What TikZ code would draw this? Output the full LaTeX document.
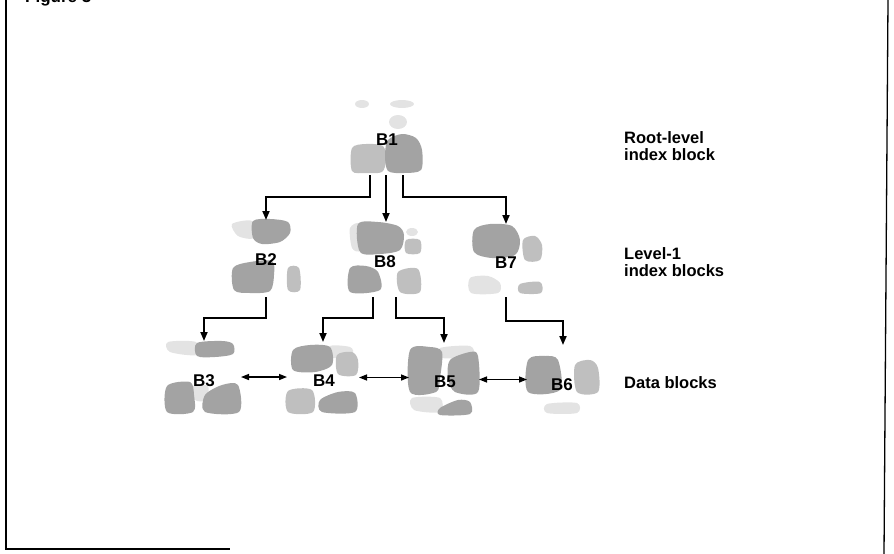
\documentclass[tikz,border=0pt]{standalone}
\usepackage{fontspec}
\setmainfont{Liberation Sans}
\usetikzlibrary{arrows.meta}

\begin{document}
\begin{tikzpicture}[x=1pt,y=-1pt,
  frame/.style={line width=1.3pt, black},
  dense/.style={fill=black!36},
  medium/.style={fill=black!25},
  haze/.style={fill=black!11},
  area/.style={inner sep=0pt, outer sep=0pt},
  lab/.style={inner sep=0pt, font=\bfseries\fontsize{17}{20}\selectfont},
  side/.style={inner sep=0pt, align=left, font=\bfseries\fontsize{16.5}{17.5}\selectfont},
  conn/.style={line width=1.8pt, -{Triangle[length=9pt,width=7pt]}},
  link/.style={line width=1.4pt, {Triangle[length=8pt,width=6pt]}-{Triangle[length=8pt,width=6pt]}}]

\useasboundingbox (0,0) rectangle (894,554);
\clip (0,0) rectangle (894,554);

% page frame and cut-off figure caption
\draw[frame] (6,0) -- (6,549) -- (230,549);
\draw[frame] (888,0) -- (884,554);
\node[inner sep=0pt, anchor=base west, font=\bfseries\fontsize{17}{20}\selectfont] (caption) at (25,2.5) {Figure 3};

% ---- halftone blobs of the blocks ----
% B1
\fill[haze] (362,104) ellipse (7 and 4);
\fill[haze] (402,104) ellipse (12 and 4);
\fill[haze] (398,122) ellipse (9 and 7);
\fill[medium] plot[smooth cycle] coordinates {(352,148) (366,144) (383,146) (386,160) (382,172) (366,173) (352,171)};
\fill[dense] plot[smooth cycle] coordinates {(388,140) (402,134) (416,138) (422,150) (421,170) (404,173) (388,171) (385,155)};
% B2
\fill[haze] plot[smooth cycle] coordinates {(232,224) (252,221) (254,238) (238,236)};
\fill[dense] plot[smooth cycle] coordinates {(253,221) (270,219) (288,222) (290,233) (280,242) (262,244) (253,238)};
\fill[dense] plot[smooth cycle] coordinates {(233,268) (250,262) (272,261) (274,275) (270,291) (250,293) (234,290)};
\fill[medium] plot[smooth cycle] coordinates {(288,268) (299,268) (300,290) (288,290)};
% B8
\fill[haze] plot[smooth cycle] coordinates {(350,228) (360,224) (360,250) (352,248)};
\fill[dense] plot[smooth cycle] coordinates {(358,224) (378,222) (398,226) (404,235) (400,250) (380,254) (360,252)};
\fill[haze] (412,232) ellipse (6 and 4);
\fill[medium] plot[smooth cycle] coordinates {(406,240) (420,240) (420,253) (406,253)};
\fill[dense] plot[smooth cycle] coordinates {(350,268) (366,266) (378,272) (380,290) (350,292)};
\fill[medium] plot[smooth cycle] coordinates {(398,272) (418,269) (420,292) (400,292)};
% B7
\fill[dense] plot[smooth cycle] coordinates {(474,230) (490,224) (512,226) (520,240) (515,255) (492,258) (474,252)};
\fill[medium] plot[smooth cycle] coordinates {(523,240) (535,236) (542,245) (540,260) (525,260)};
\fill[haze] plot[smooth cycle] coordinates {(470,278) (488,276) (500,283) (498,293) (471,293)};
\fill[medium] plot[smooth cycle] coordinates {(520,284) (540,282) (541,293) (520,293)};
% B3
\fill[haze] plot[smooth cycle] coordinates {(168,342) (196,342) (197,355) (170,352)};
\fill[dense] plot[smooth cycle] coordinates {(197,343) (222,341) (233,344) (233,354) (215,357) (197,356)};
\fill[haze] plot[smooth cycle] coordinates {(193,386) (208,386) (206,400) (195,400)};
\fill[dense] plot[smooth cycle] coordinates {(167,386) (190,382) (194,395) (193,412) (167,412)};
\fill[dense] plot[smooth cycle] coordinates {(205,395) (222,385) (238,385) (239,412) (205,412)};
% B4
\fill[haze] plot[smooth cycle] coordinates {(330,346) (350,347) (352,354) (332,358)};
\fill[dense] plot[smooth cycle] coordinates {(293,350) (310,345) (330,347) (332,365) (315,372) (293,370)};
\fill[medium] plot[smooth cycle] coordinates {(337,355) (352,352) (358,360) (356,375) (338,374)};
\fill[medium] plot[smooth cycle] coordinates {(288,391) (312,390) (313,412) (288,412)};
\fill[dense] plot[smooth cycle] coordinates {(320,400) (338,392) (355,393) (355,412) (322,412)};
% B5
\fill[haze] plot[smooth cycle] coordinates {(440,348) (470,346) (472,356) (442,358)};
\fill[dense] plot[smooth cycle] coordinates {(410,350) (430,347) (442,352) (440,378) (436,392) (410,392)};
\fill[dense] plot[smooth cycle] coordinates {(450,360) (470,352) (478,356) (478,392) (455,392) (448,378)};
\fill[haze] plot[smooth cycle] coordinates {(412,398) (440,398) (440,412) (414,410)};
\fill[dense] plot[smooth cycle] coordinates {(440,408) (458,400) (470,402) (470,414) (440,415)};
% B6
\fill[dense] plot[smooth cycle] coordinates {(528,360) (545,356) (558,360) (560,390) (528,392)};
\fill[medium] plot[smooth cycle] coordinates {(575,365) (590,360) (598,368) (598,392) (577,392)};
\fill[haze] plot[smooth cycle] coordinates {(547,404) (577,403) (577,413) (547,413)};

% ---- block areas (connector anchors) ----
\node[area, minimum width=70pt, minimum height=35pt] (blk1) at (387,157.5) {};
\node[area, minimum width=68pt, minimum height=77pt] (blk2) at (266,258.5) {};
\node[area, minimum width=70pt, minimum height=75pt] (blk8) at (386,259.5) {};
\node[area, minimum width=72pt, minimum height=73pt] (blk7) at (506,260.5) {};
\node[area, minimum width=74pt, minimum height=72pt] (blk3) at (204,377) {};
\node[area, minimum width=72pt, minimum height=71pt] (blk4) at (323,377.5) {};
\node[area, minimum width=70pt, minimum height=73pt] (blk5) at (444,379.5) {};
\node[area, minimum width=72pt, minimum height=68pt] (blk6) at (563,379) {};

% ---- block labels ----
\node[lab, anchor=base] (l1) at (387,145) {B1};
\node[lab, anchor=base] (l2) at (266,265) {B2};
\node[lab, anchor=base] (l8) at (385,267) {B8};
\node[lab, anchor=base] (l7) at (506,268) {B7};
\node[lab, anchor=base] (l3) at (204,386) {B3};
\node[lab, anchor=base] (l4) at (324,386) {B4};
\node[lab, anchor=base] (l5) at (445,387) {B5};
\node[lab, anchor=base] (l6) at (562,390) {B6};

% ---- level captions ----
\node[side, anchor=north west] (root) at (624,131) {Root-level\\index block};
\node[side, anchor=north west] (lvl1) at (624,247) {Level-1\\index blocks};
\node[side, anchor=north west] (data) at (624,376) {Data blocks};

% ---- tree pointers ----
\draw[conn] ([xshift=-17pt]blk1.south) -- ++(0,22) -| (blk2.north);
\draw[conn] ([xshift=-1pt]blk1.south) -- (blk8.north);
\draw[conn] ([xshift=16pt]blk1.south) -- ++(0,22) -| (blk7.north);
\draw[conn] (blk2.south) -- ++(0,21) -| (blk3.north);
\draw[conn] ([xshift=-13pt]blk8.south) -- ++(0,21) -| (blk4.north);
\draw[conn] ([xshift=10pt]blk8.south) -- ++(0,21) -| (blk5.north);
\draw[conn] (blk7.south) -- ++(0,24) -| (blk6.north);

% ---- sibling links between data blocks ----
\draw[link] (blk3.east) -- (blk4.west |- blk3.east);
\draw[link] (blk4.east) -- (blk5.west |- blk4.east);
\draw[link] (blk5.east) -- (blk6.west |- blk5.east);

\end{tikzpicture}
\end{document}
